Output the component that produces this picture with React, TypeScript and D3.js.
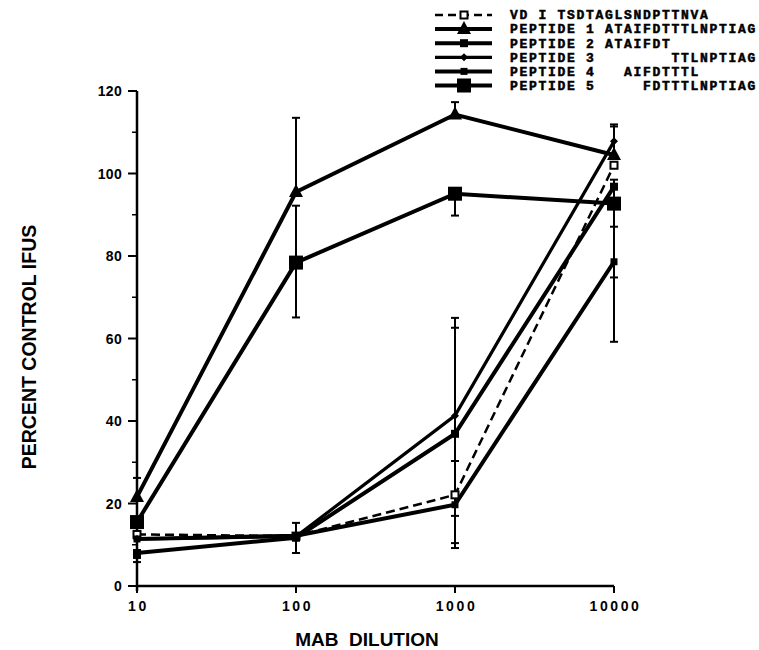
import * as d3 from "d3";

// dilution on x, percent control IFUs on y
const DILUTIONS = [10, 100, 1000, 10000];
const Y_TICKS = [0, 20, 40, 60, 80, 100, 120];
const Y_MINOR = [10, 30, 50, 70, 90, 110];

const FULL_SEQ = "ATAIFDTTTLNPTIAG";

const VD1 = [12.5, 12.1, 22.1, 102];
const VD1_UP = [0, 3.2, 0, 0];
const VD1_DOWN = [0, 0, 0, 0];

const PEP1 = [21.6, 95.5, 114.3, 104.5];
const PEP1_UP = [4.6, 18, 3, 7.4];
const PEP1_DOWN = [0, 0, 0, 0];

const PEP2 = [8.0, 11.7, 36.9, 96.8];
const PEP2_UP = [0, 0, 25.7, 0];
const PEP2_DOWN = [2.2, 3.7, 26.5, 22];

const PEP3 = [11.4, 12.0, 41.3, 107.8];
const PEP3_UP = [0, 0, 23.7, 3.6];
const PEP3_DOWN = [0, 0, 24.3, 0];

const PEP4 = [11.4, 12.2, 19.7, 78.6];
const PEP4_UP = [0, 0, 10.6, 0];
const PEP4_DOWN = [4.6, 0, 10.5, 19.4];

const PEP5 = [15.5, 78.4, 95.1, 92.7];
const PEP5_UP = [0, 13.8, 0, 5.8];
const PEP5_DOWN = [0, 13.3, 5.3, 5.6];

type Marker = "openSquare" | "triangle" | "square" | "diamond" | "smallSquare" | "bigSquare";

const series = [
  { name: "VD I", seq: "TSDTAGLSNDPTTNVA", values: VD1, up: VD1_UP, down: VD1_DOWN, marker: "openSquare" as Marker, dashed: true, width: 2.5 },
  { name: "PEPTIDE 1", seq: "ATAIFDTTTLNPTIAG", values: PEP1, up: PEP1_UP, down: PEP1_DOWN, marker: "triangle" as Marker, dashed: false, width: 4 },
  { name: "PEPTIDE 2", seq: "ATAIFDT", values: PEP2, up: PEP2_UP, down: PEP2_DOWN, marker: "square" as Marker, dashed: false, width: 4 },
  { name: "PEPTIDE 3", seq: "TTLNPTIAG", values: PEP3, up: PEP3_UP, down: PEP3_DOWN, marker: "diamond" as Marker, dashed: false, width: 3.2 },
  { name: "PEPTIDE 4", seq: "AIFDTTTL", values: PEP4, up: PEP4_UP, down: PEP4_DOWN, marker: "smallSquare" as Marker, dashed: false, width: 4 },
  { name: "PEPTIDE 5", seq: "FDTTTLNPTIAG", values: PEP5, up: PEP5_UP, down: PEP5_DOWN, marker: "bigSquare" as Marker, dashed: false, width: 4 },
];

const W = 759;
const H = 650;
const SANS = "'Liberation Sans', Arial, Helvetica, sans-serif";
const MONO = "'Liberation Mono', 'Courier New', monospace";

function MarkerShape({ type, cx, cy }: { type: Marker; cx: number; cy: number }) {
  switch (type) {
    case "openSquare":
      return <rect x={cx - 3.5} y={cy - 3.5} width={7} height={7} fill="#fff" stroke="#000" strokeWidth={2} />;
    case "triangle":
      return <path d={`M${cx},${cy - 8} L${cx + 7},${cy + 5} L${cx - 7},${cy + 5} Z`} fill="#000" />;
    case "square":
      return <rect x={cx - 4} y={cy - 4} width={8} height={8} fill="#000" />;
    case "smallSquare":
      return <rect x={cx - 3.5} y={cy - 3.5} width={7} height={7} fill="#000" />;
    case "diamond":
      return <path d={`M${cx},${cy - 4} L${cx + 4},${cy} L${cx},${cy + 4} L${cx - 4},${cy} Z`} fill="#000" />;
    case "bigSquare":
      return <rect x={cx - 7} y={cy - 7} width={14} height={14} fill="#000" />;
  }
}

export default function App() {
  const x = d3.scaleLog().domain([10, 10000]).range([137, 614]);
  const y = d3.scaleLinear().domain([0, 120]).range([586, 91]);

  const line = d3
    .line<number>()
    .x((_, i) => x(DILUTIONS[i]))
    .y((d) => y(d));

  const x0 = x(10);
  const legendX = 435;
  const legendTextX = 510;
  const legendY = 15;
  const legendStep = 14.1;

  return (
    <svg
      width={W}
      height={H}
      viewBox={`0 0 ${W} ${H}`}
      style={{ position: "absolute", left: 0, top: 0, background: "#fff" }}
    >
      {/* axes */}
      <line x1={x0} x2={x0} y1={y(120)} y2={y(0) + 5} stroke="#000" strokeWidth={2.5} />
      <line x1={x0} x2={x(10000)} y1={y(0)} y2={y(0)} stroke="#000" strokeWidth={2.5} />
      {Y_TICKS.map((t) => (
        <g key={t}>
          <line x1={x0 - 9} x2={x0} y1={y(t)} y2={y(t)} stroke="#000" strokeWidth={2} />
          <text
            x={122}
            y={y(t) + 5}
            textAnchor="end"
            fontFamily={SANS}
            fontWeight="bold"
            fontSize={14}
            letterSpacing={0.3}
          >
            {t}
          </text>
        </g>
      ))}
      {Y_MINOR.map((t) => (
        <line key={t} x1={x0 - 5} x2={x0} y1={y(t)} y2={y(t)} stroke="#000" strokeWidth={1.5} />
      ))}
      {DILUTIONS.map((d) => (
        <g key={d}>
          <line x1={x(d)} x2={x(d)} y1={y(0)} y2={y(0) + 7} stroke="#000" strokeWidth={2} />
          <text
            x={x(d) + 1.5}
            y={611}
            textAnchor="middle"
            fontFamily={SANS}
            fontWeight="bold"
            fontSize={14}
            letterSpacing={2.6}
          >
            {d}
          </text>
        </g>
      ))}

      <text x={367} y={646} textAnchor="middle" fontFamily={SANS} fontWeight="bold" fontSize={19} style={{ whiteSpace: "pre" }}>
        {"MAB  DILUTION"}
      </text>
      <text
        transform={`translate(36,347) rotate(-90)`}
        textAnchor="middle"
        fontFamily={SANS}
        fontWeight="bold"
        fontSize={19.5}
      >
        PERCENT CONTROL IFUS
      </text>

      {/* error bars */}
      {series.map((s) =>
        s.values.map((v, i) => {
          const cx = x(DILUTIONS[i]);
          const top = v + s.up[i];
          const bot = v - s.down[i];
          return (
            <g key={`${s.name}-${i}`} stroke="#000" strokeWidth={2}>
              {s.up[i] > 0 && (
                <>
                  <line x1={cx} x2={cx} y1={y(v)} y2={y(top)} />
                  <line x1={cx - 4} x2={cx + 4} y1={y(top)} y2={y(top)} />
                </>
              )}
              {s.down[i] > 0 && (
                <>
                  <line x1={cx} x2={cx} y1={y(v)} y2={y(bot)} />
                  <line x1={cx - 4} x2={cx + 4} y1={y(bot)} y2={y(bot)} />
                </>
              )}
            </g>
          );
        })
      )}

      {/* series lines */}
      {series.map((s) => (
        <path
          key={s.name}
          d={line(s.values) ?? ""}
          fill="none"
          stroke="#000"
          strokeWidth={s.width}
          strokeDasharray={s.dashed ? "9,5" : undefined}
          strokeLinejoin="miter"
        />
      ))}
      {series.map((s) =>
        s.values.map((v, i) => (
          <MarkerShape key={`${s.name}-m-${i}`} type={s.marker} cx={x(DILUTIONS[i])} cy={y(v)} />
        ))
      )}

      {/* legend */}
      {series.map((s, i) => {
        const cy = legendY + i * legendStep;
        const pad = s.dashed ? " " : " ".repeat(1 + Math.max(0, FULL_SEQ.indexOf(s.seq)));
        return (
          <g key={`leg-${s.name}`}>
            <line
              x1={legendX}
              x2={legendX + 57}
              y1={cy}
              y2={cy}
              stroke="#000"
              strokeWidth={s.width}
              strokeDasharray={s.dashed ? "8,5" : undefined}
            />
            <MarkerShape type={s.marker} cx={legendX + 29} cy={cy} />
            <text
              x={legendTextX}
              y={cy + 4.3}
              fontFamily={MONO}
              fontWeight="bold"
              fontSize={13}
              letterSpacing={1.7}
              stroke="#000"
              strokeWidth={0.5}
              style={{ whiteSpace: "pre" }}
            >
              {s.name + pad + s.seq}
            </text>
          </g>
        );
      })}
    </svg>
  );
}
